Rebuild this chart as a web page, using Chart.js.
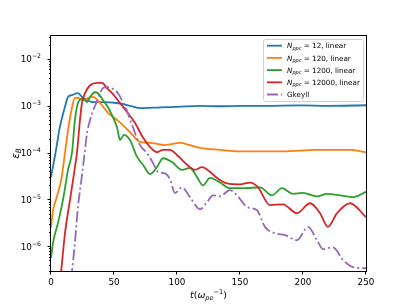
<!DOCTYPE html>
<html>
<head>
<meta charset="utf-8">
<script src="https://cdn.jsdelivr.net/npm/chart.js@4.4.0/dist/chart.umd.min.js"></script>
<style>
  body { margin: 0; background: #fff; }
  #wrap { width: 407px; height: 305px; }
</style>
</head>
<body>
<div id="wrap"><canvas id="chart"></canvas></div>
<script>
// time in 1/omega_pe, eps_B for each run
const tBlue = [0, 4, 7, 11, 13.5, 16.7, 21.4, 24.6, 28.6, 33, 41, 52, 63, 71, 87, 100, 118, 135, 150, 170, 198, 220, 250];
const eBlue = [3.0e-5, 1.15e-4, 3.5e-4, 9.3e-4, 1.55e-3, 1.7e-3, 1.86e-3, 1.55e-3, 1.32e-3, 1.2e-3, 1.2e-3, 1.15e-3, 1.0e-3, 8.9e-4, 9.3e-4, 9.5e-4, 1.0e-3, 9.8e-4, 1.0e-3, 1.0e-3, 1.02e-3, 1.0e-3, 1.03e-3];

const tOrange = [0, 1.5, 4.5, 8.5, 11.1, 13.5, 16.7, 19, 21.4, 25.4, 29.4, 33.3, 38.9, 45.2, 52.4, 58.7, 62.7, 70.6, 78.6, 90.5, 102.4, 110.3, 118.3, 134, 150, 184, 211, 237, 250];
const eOrange = [2.5e-6, 5.6e-6, 1.1e-5, 3.0e-5, 1.0e-4, 3.0e-4, 9.3e-4, 1.48e-3, 1.48e-3, 1.32e-3, 1.48e-3, 1.55e-3, 1.15e-3, 7.1e-4, 5.0e-4, 3.5e-4, 2.75e-4, 1.7e-4, 1.62e-4, 1.45e-4, 1.62e-4, 1.45e-4, 1.26e-4, 1.15e-4, 1.07e-4, 1.07e-4, 1.15e-4, 1.15e-4, 1.02e-4];

const tGreen = [0, 1.6, 5.6, 9.5, 13.5, 16.7, 19, 21.4, 24.6, 27, 28.6, 31, 34.9, 37.3, 41.3, 45.2, 48.4, 52.4, 54.8, 57.9, 62.7, 68.3, 73, 78.6, 84.1, 88.9, 96, 104, 110.3, 115.9, 120.6, 126.2, 134.1, 142, 154, 165.9, 175.4, 183.3, 192, 200, 211, 219, 229.4, 239.7, 250];
const eGreen = [5.6e-7, 1.2e-6, 3.2e-6, 9.8e-6, 4.3e-5, 1.02e-4, 5.0e-4, 1.15e-3, 1.41e-3, 1.32e-3, 1.2e-3, 1.55e-3, 1.95e-3, 1.86e-3, 1.32e-3, 9.3e-4, 6.3e-4, 3.5e-4, 1.86e-4, 2.4e-4, 1.86e-4, 8.1e-5, 5.5e-5, 3.5e-5, 4.9e-5, 7.6e-5, 6.3e-5, 4.3e-5, 4.7e-5, 3.0e-5, 2.0e-5, 2.9e-5, 2.3e-5, 1.74e-5, 1.74e-5, 1.82e-5, 1.23e-5, 1.74e-5, 1.32e-5, 1.38e-5, 1.17e-5, 1.32e-5, 1.23e-5, 1.12e-5, 1.45e-5];

const tRed = [7.5, 11.1, 15.1, 19, 20.6, 23, 24.6, 27, 31, 36.5, 40.5, 44.4, 49.2, 54.8, 60.3, 66.7, 73, 78.6, 84.1, 88.9, 94.4, 100, 108, 114.3, 119.8, 126.2, 131.7, 139.7, 150, 158, 164.3, 173.8, 184, 195.2, 205.6, 213.5, 219.8, 227, 237.3, 250];
const eRed = [2.0e-7, 1.9e-6, 9.8e-6, 4.9e-5, 9.8e-5, 5.0e-4, 1.15e-3, 1.86e-3, 2.75e-3, 3.1e-3, 3.1e-3, 2.4e-3, 1.78e-3, 1.15e-3, 7.4e-4, 4.3e-4, 2.1e-4, 1.32e-4, 1.02e-4, 1.15e-4, 1.15e-4, 8.9e-5, 5.5e-5, 4.3e-5, 4.9e-5, 3.9e-5, 2.9e-5, 2.2e-5, 2.1e-5, 2.3e-5, 1.82e-5, 7.6e-6, 7.9e-6, 5.1e-6, 8.3e-6, 5.1e-6, 2.6e-6, 5.1e-6, 8.3e-6, 4.2e-6];

const tGkeyll = [16, 19, 21.4, 24.6, 27, 28.6, 31, 33.3, 36.5, 38.9, 41.3, 45.2, 49.2, 53.2, 56.3, 60.3, 65, 70.6, 76.2, 81, 84.9, 90.5, 94.4, 98.4, 104, 110.3, 118.3, 123.8, 128.6, 134.1, 142, 147.6, 155.6, 163.5, 169.8, 177.8, 185.7, 195.2, 204, 211.1, 215.9, 223.8, 231.7, 239.7, 250];
const eGkeyll = [2.0e-7, 1.2e-6, 6.9e-6, 3.3e-5, 1.15e-4, 2.6e-4, 5.0e-4, 7.8e-4, 1.26e-3, 1.86e-3, 2.4e-3, 2.5e-3, 2.3e-3, 1.86e-3, 1.32e-3, 7.8e-4, 3.5e-4, 1.45e-4, 9.8e-5, 6.0e-5, 3.9e-5, 3.6e-5, 2.75e-5, 1.38e-5, 1.82e-5, 1.12e-5, 6.2e-6, 8.7e-6, 1.23e-5, 1.17e-5, 1.58e-5, 1.23e-5, 6.9e-6, 5.9e-6, 2.6e-6, 1.9e-6, 1.74e-6, 1.35e-6, 2.6e-6, 1.35e-6, 8.7e-7, 9.5e-7, 5.1e-7, 3.6e-7, 3.4e-7];

const xTicks = [0, 50, 100, 150, 200, 250];
const yTickPowers = [-6, -5, -4, -3, -2];
const nppc = ['12', '120', '1200', '12000'];
const gkeyllName = 'Gkeyll';
const colors = ['#1f77b4', '#ff7f0e', '#2ca02c', '#d62728', '#9467bd'];
const dashDot = [11, 3, 2, 3];

const FONT = '"DejaVu Sans", sans-serif';

function pts(ts, es) {
  return ts.map((t, i) => ({ x: t, y: es[i] }));
}

function fontFor(p, size) {
  return (p.it ? 'italic ' : '') + (size * (p.s || 1)).toFixed(2) + 'px ' + FONT;
}

// text built from pieces {t, it, s, dy}, y is the baseline
function drawRich(ctx, parts, x, y, size, align) {
  let w = 0;
  parts.forEach(p => { ctx.font = fontFor(p, size); w += ctx.measureText(p.t).width; });
  let cx = align === 'center' ? x - w / 2 : align === 'right' ? x - w : x;
  ctx.textAlign = 'left';
  ctx.textBaseline = 'alphabetic';
  parts.forEach(p => {
    ctx.font = fontFor(p, size);
    ctx.fillText(p.t, cx, y + (p.dy || 0));
    cx += ctx.measureText(p.t).width;
  });
}

const decorations = {
  id: 'decorations',
  afterDatasetsDraw(chart) {
    const { ctx, chartArea: a, scales: { x, y } } = chart;
    ctx.save();
    ctx.fillStyle = '#000';
    ctx.strokeStyle = '#000';
    ctx.lineWidth = 1;
    ctx.strokeRect(a.left - 0.5, a.top - 0.5, a.right - a.left + 1, a.bottom - a.top + 1);

    // x ticks
    ctx.beginPath();
    xTicks.forEach(v => {
      const px = Math.round(x.getPixelForValue(v)) - 0.5;
      ctx.moveTo(px, a.bottom);
      ctx.lineTo(px, a.bottom + 3.5);
    });
    // y ticks, major and minor
    for (let k = -7; k <= -1; k++) {
      for (let m = 1; m <= 9; m++) {
        const v = m * Math.pow(10, k);
        if (v < y.min || v > y.max) continue;
        const py = Math.round(y.getPixelForValue(v)) + 0.5;
        ctx.moveTo(a.left, py);
        ctx.lineTo(a.left - (m === 1 ? 3.5 : 2), py);
      }
    }
    ctx.stroke();

    const fs = 8.8;
    xTicks.forEach(v => {
      drawRich(ctx, [{ t: String(v) }], x.getPixelForValue(v), a.bottom + 14, fs, 'center');
    });
    yTickPowers.forEach(k => {
      const py = y.getPixelForValue(Math.pow(10, k));
      drawRich(ctx, [{ t: '10' }, { t: '\u2212' + (-k), s: 0.7, dy: -4 }], a.left - 10, py + 3.2, fs, 'right');
    });

    // axis titles
    drawRich(ctx, [{ t: 't', it: true }, { t: '(' }, { t: '\u03c9', it: true },
      { t: 'pe', it: true, s: 0.7, dy: 2 }, { t: '\u22121', s: 0.7, dy: -4.5 }, { t: ')' }],
      (a.left + a.right) / 2, 298, 9.4, 'center');
    ctx.save();
    ctx.translate(18.5, (a.top + a.bottom) / 2);
    ctx.rotate(-Math.PI / 2);
    drawRich(ctx, [{ t: '\u03b5', it: true }, { t: 'B', it: true, s: 0.7, dy: 2.4 }], 0, 0, 10.5, 'center');
    ctx.restore();

    // legend
    const lx = 263, ly = 39, lw = 100, lh = 62;
    ctx.beginPath();
    ctx.roundRect(lx + 0.5, ly + 0.5, lw, lh, 2);
    ctx.fillStyle = 'rgba(255,255,255,0.8)';
    ctx.fill();
    ctx.strokeStyle = '#d0d0d0';
    ctx.stroke();
    const labels = nppc.map(n => [{ t: 'N', it: true }, { t: 'ppc', it: true, s: 0.7, dy: 1.5 }, { t: ' = ' + n + ', linear' }]);
    labels.push([{ t: gkeyllName }]);
    labels.forEach((parts, i) => {
      const ry = 45.7 + i * 12.2;
      ctx.beginPath();
      ctx.setLineDash(i === 4 ? dashDot : []);
      ctx.strokeStyle = colors[i];
      ctx.lineWidth = 1.8;
      ctx.moveTo(267, ry);
      ctx.lineTo(282, ry);
      ctx.stroke();
      ctx.setLineDash([]);
      ctx.fillStyle = '#000';
      drawRich(ctx, parts, 287, ry + 2.6, 7.2, 'left');
    });
    ctx.restore();
  }
};

const series = [[tBlue, eBlue], [tOrange, eOrange], [tGreen, eGreen], [tRed, eRed], [tGkeyll, eGkeyll]];

new Chart(document.getElementById('chart'), {
  type: 'line',
  data: {
    datasets: series.map((s, i) => ({
      data: pts(s[0], s[1]),
      borderColor: colors[i],
      borderWidth: 1.8,
      borderDash: i === 4 ? dashDot : [],
      pointRadius: 0,
      fill: false,
      cubicInterpolationMode: 'monotone',
      order: 4 - i,
      clip: 0
    }))
  },
  options: {
    responsive: true,
    maintainAspectRatio: false,
    animation: false,
    devicePixelRatio: 1,
    layout: { padding: { left: 51, top: 36, right: 41, bottom: 34 } },
    plugins: { legend: { display: false }, tooltip: { enabled: false } },
    scales: {
      x: {
        type: 'linear', min: 0, max: 250,
        ticks: { display: false }, grid: { display: false }, border: { display: false },
        afterFit: s => { s.height = 0; }
      },
      y: {
        type: 'logarithmic', min: 2.97e-7, max: 3.1e-2,
        ticks: { display: false }, grid: { display: false }, border: { display: false },
        afterFit: s => { s.width = 0; }
      }
    }
  },
  plugins: [decorations]
});
</script>
</body>
</html>
